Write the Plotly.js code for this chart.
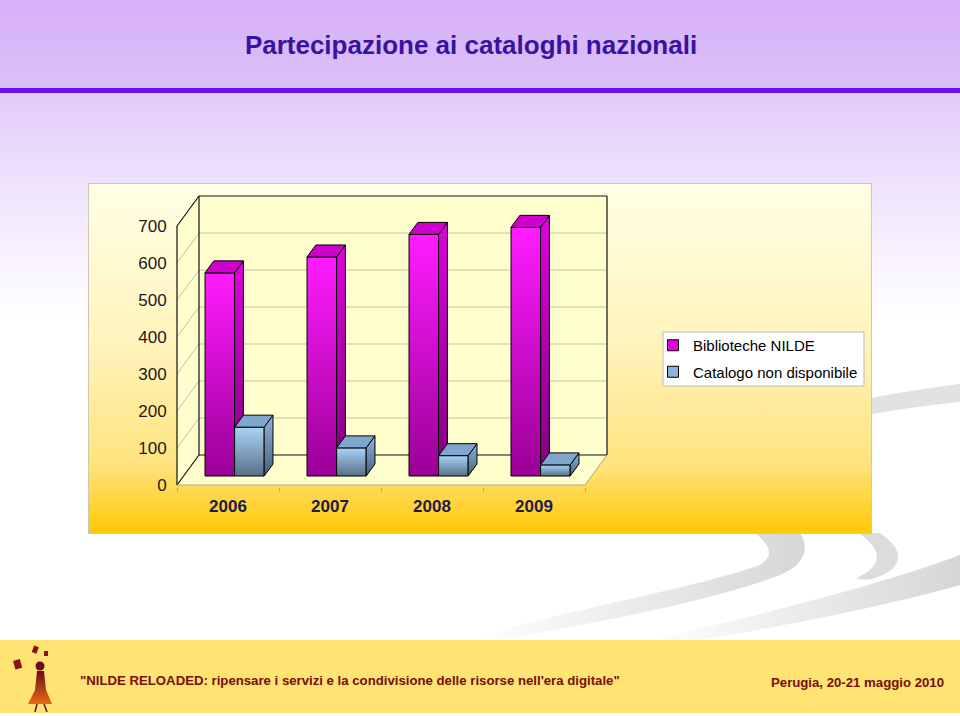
<!DOCTYPE html>
<html>
<head>
<meta charset="utf-8">
<script src="https://cdn.plot.ly/plotly-3.0.1.min.js"></script>
<style>
  html, body { margin:0; padding:0; background:#fff; }
  #wrap { position:relative; width:960px; height:716px; overflow:hidden; }
  #bg { position:absolute; left:0; top:0; }
  #chart { position:absolute; left:0; top:0; width:960px; height:716px; }
</style>
</head>
<body>
<div id="wrap">
<svg id="bg" width="960" height="716" xmlns="http://www.w3.org/2000/svg">
  <defs>
    <linearGradient id="gTitle" x1="0" y1="0" x2="0" y2="1">
      <stop offset="0" stop-color="#D5B1F8"/>
      <stop offset="1" stop-color="#DCC0F8"/>
    </linearGradient>
    <linearGradient id="gFade" x1="0" y1="0" x2="0" y2="1">
      <stop offset="0" stop-color="#E2CBF8"/>
      <stop offset="0.45" stop-color="#F1E6FC"/>
      <stop offset="1" stop-color="#FFFFFF"/>
    </linearGradient>
    <linearGradient id="gPanel" x1="0" y1="0" x2="0" y2="1">
      <stop offset="0" stop-color="#FFFFE6"/>
      <stop offset="0.45" stop-color="#FFF4BC"/>
      <stop offset="0.8" stop-color="#FFE37E"/>
      <stop offset="1" stop-color="#FFC905"/>
    </linearGradient>
    <linearGradient id="gSw" x1="0" y1="0" x2="1" y2="0">
      <stop offset="0" stop-color="#FFFFFF"/>
      <stop offset="1" stop-color="#D6D6D6"/>
    </linearGradient>
    <linearGradient id="gLogo" x1="0" y1="0" x2="0" y2="1">
      <stop offset="0" stop-color="#6E0A1E"/>
      <stop offset="1" stop-color="#E86A10"/>
    </linearGradient>
  </defs>
  <rect x="0" y="0" width="960" height="716" fill="#FFFFFF"/>
  <rect x="0" y="0" width="960" height="88" fill="url(#gTitle)"/>
  <rect x="0" y="93" width="960" height="230" fill="url(#gFade)"/>
  <rect x="0" y="88" width="960" height="5" fill="#6A12EE"/>
  <!-- decorative swooshes -->
  <path d="M872,398 C900,392 930,388 960,384 L960,402 C930,405 900,409 872,414 Z" fill="#E2E2E2"/>
  <path d="M470,640 C560,610 690,590 760,565 C775,555 770,545 755,533 L800,533 C810,548 805,565 780,575 C700,605 580,625 500,640 Z" fill="url(#gSw)"/>
  <path d="M650,640 C760,615 880,585 960,555 L960,585 C890,605 790,625 700,640 Z" fill="url(#gSw)"/>
  <path d="M858,533 L880,533 C905,550 905,568 875,578 C868,580 862,580 856,578 C885,566 882,548 858,533 Z" fill="#DCDCDC"/>
  <!-- chart panel -->
  <rect x="88.5" y="183.5" width="783" height="350" fill="url(#gPanel)" stroke="#CFC8B8" stroke-width="1"/>
  <!-- footer -->
  <rect x="0" y="640" width="960" height="73" fill="#FFE373"/>
  <!-- small logo -->
  <g>
    <rect x="14" y="660" width="7" height="9" fill="#8A1020" transform="rotate(-15 17 664)"/>
    <rect x="33" y="646" width="5" height="7" fill="#8A1020" transform="rotate(20 35 649)"/>
    <rect x="44" y="651" width="4" height="5" fill="#8A1020"/>
    <circle cx="40" cy="666" r="4.5" fill="#6E0A1E"/>
    <path d="M37,671 L44,671 L46,690 L52,704 L28,704 L35,690 Z" fill="url(#gLogo)"/>
    <path d="M37,704 L35,712 M44,704 L47,712" stroke="#6E0A1E" stroke-width="1.5"/>
  </g>
</svg>
<div id="chart"></div>
</div>
<script>
// ---------------- data ----------------
const years = ['2006', '2007', '2008', '2009'];
const nilde = [549, 592, 653, 672];          // Biblioteche NILDE
const catalogo = [132, 76, 55, 30];          // Catalogo non disponibile
const seriesNames = ['Biblioteche NILDE', 'Catalogo non disponibile'];
const yTicks = [0, 100, 200, 300, 400, 500, 600, 700];

// ---------------- styling / geometry ----------------
const PXX = 102;           // px per category unit
const PXY = 0.37;          // px per value unit
const DX = 22 / PXX;       // depth shift in x (units)
const DY = 30 / PXY;       // depth shift in y (value units)
const BW = 0.29;           // bar width (units)
const D1 = 0.30, D2 = 0.70; // bar depth (front / back)
const L = 175, R = 620, T = 180, B = 487;   // plot area in px
const xmin = (L - 177) / PXX - 0.5, xmax = (R - 177) / PXX - 0.5;
const ymin = (485 - B) / PXY, ymax = (485 - T) / PXY;
const nCat = years.length;
const wallTop = yTicks[yTicks.length - 1];

const styles = [
  { front: ['#9A0096', '#FF1CFF'], side: ['#7E007A', '#E000E0'], topc: '#CF00CC', legend: '#E000E0' },
  { front: ['#587089', '#A9D4F7'], side: ['#4A6079', '#8EB6DD'], topc: '#7FA6CE', legend: '#8AB2DA' }
];

function proj(x, v, d) { return [x + d * DX, v + d * DY]; }
function poly(pts) {
  const xs = pts.map(p => p[0]), ys = pts.map(p => p[1]);
  xs.push(xs[0]); ys.push(ys[0]);
  return { x: xs, y: ys };
}
function segs(list) {
  const x = [], y = [];
  list.forEach(s => { x.push(s[0][0], s[1][0], null); y.push(s[0][1], s[1][1], null); });
  return { x, y };
}

const traces = [];
const base = { type: 'scatter', mode: 'lines', hoverinfo: 'skip', showlegend: false };

// walls
const x0w = -0.5, x1w = nCat - 0.5;
[
  [proj(x0w, 0, 1), proj(x1w, 0, 1), proj(x1w, wallTop, 1), proj(x0w, wallTop, 1)],
  [proj(x0w, 0, 0), proj(x0w, 0, 1), proj(x0w, wallTop, 1), proj(x0w, wallTop, 0)],
  [proj(x0w, 0, 0), proj(x1w, 0, 0), proj(x1w, 0, 1), proj(x0w, 0, 1)]
].forEach(p => traces.push(Object.assign({}, base, poly(p), {
  fill: 'toself', fillcolor: '#FFFFCE', line: { width: 0 }
})));

// gridlines
const grid = [];
yTicks.slice(1, -1).forEach(t => {
  grid.push([proj(x0w, t, 1), proj(x1w, t, 1)]);
  grid.push([proj(x0w, t, 0), proj(x0w, t, 1)]);
});
traces.push(Object.assign({}, base, segs(grid), { line: { color: '#C4C1A4', width: 1 } }));

// floor front edge (grey) on overlay axis
traces.push(Object.assign({}, base, segs([
  [proj(x0w, 0, 0), proj(x1w, 0, 0)],
  [proj(x1w, 0, 0), proj(x1w, 0, 1)]
]), { xaxis: 'x2', line: { color: '#B0A98A', width: 1 } }));

// frame (black)
traces.push(Object.assign({}, base, segs([
  [proj(x0w, 0, 0), proj(x0w, wallTop, 0)],
  [proj(x0w, wallTop, 0), proj(x0w, wallTop, 1)],
  [proj(x0w, 0, 0), proj(x0w, 0, 1)],
  [proj(x0w, 0, 1), proj(x0w, wallTop, 1)],
  [proj(x0w, wallTop, 1), proj(x1w, wallTop, 1)],
  [proj(x1w, wallTop, 1), proj(x1w, 0, 1)],
  [proj(x0w, 0, 1), proj(x1w, 0, 1)]
]), { line: { color: '#111111', width: 1.2 } }));

// bars
const series = [nilde, catalogo];
for (let i = 0; i < nCat; i++) {
  series.forEach((vals, s) => {
    const v = vals[i];
    const a = i + (s - 1) * BW, b = a + BW;
    const st = styles[s];
    const faces = [
      { p: [proj(a, 0, D1), proj(b, 0, D1), proj(b, v, D1), proj(a, v, D1)], g: st.front },
      { p: [proj(b, 0, D1), proj(b, 0, D2), proj(b, v, D2), proj(b, v, D1)], g: st.side },
      { p: [proj(a, v, D1), proj(b, v, D1), proj(b, v, D2), proj(a, v, D2)], c: st.topc }
    ];
    faces.forEach(f => {
      const tr = Object.assign({}, base, poly(f.p), {
        fill: 'toself', line: { color: '#000000', width: 1 },
        name: seriesNames[s] + ' ' + years[i]
      });
      if (f.g) {
        tr.fillcolor = f.g[1];
        tr.fillgradient = { type: 'vertical', colorscale: [[0, f.g[0]], [1, f.g[1]]] };
      } else {
        tr.fillcolor = f.c;
      }
      traces.push(tr);
    });
  });
}

// legend entries
seriesNames.forEach((n, s) => traces.push({
  type: 'scatter', mode: 'markers', x: [null], y: [null], name: n, showlegend: true,
  legendgroup: 'g' + s,
  marker: { symbol: 'square', size: 11, color: styles[s].legend, line: { color: '#000', width: 1 } }
}));

const pxToPaperX = px => (px - L) / (R - L);
const pxToPaperY = py => (B - py) / (B - T);
const font = 'Liberation Sans, Arial, sans-serif';

const layout = {
  width: 960, height: 716,
  margin: { l: L, r: 960 - R, t: T, b: 716 - B, pad: 0 },
  paper_bgcolor: 'rgba(0,0,0,0)', plot_bgcolor: 'rgba(0,0,0,0)',
  title: {
    text: 'Partecipazione ai cataloghi nazionali',
    x: 471 / 960, xanchor: 'center', xref: 'container',
    y: 1 - 45 / 716, yanchor: 'middle', yref: 'container',
    font: { family: font, size: 26, color: '#3A12A0', weight: 'bold' }
  },
  xaxis: {
    range: [xmin, xmax], tickvals: years.map((_, i) => i), ticktext: years,
    showgrid: false, zeroline: false, showline: false,
    ticks: 'outside', ticklen: 4, tickcolor: 'rgba(0,0,0,0)',
    tickfont: { family: font, size: 17, color: '#1C1C50', weight: 'bold' },
    fixedrange: true
  },
  xaxis2: {
    range: [xmin, xmax], overlaying: 'x', anchor: 'y', side: 'bottom',
    tickvals: Array.from({ length: nCat + 1 }, (_, i) => i - 0.5),
    ticks: 'outside', ticklen: 4, tickcolor: '#B0A98A', tickwidth: 1,
    showticklabels: false, showgrid: false, zeroline: false, showline: false, fixedrange: true
  },
  yaxis: {
    range: [ymin, ymax], tickvals: yTicks,
    showgrid: false, zeroline: false, showline: false,
    ticks: 'outside', ticklen: 4, tickcolor: 'rgba(0,0,0,0)',
    tickfont: { family: font, size: 17, color: '#1A1A1A' },
    fixedrange: true
  },
  showlegend: true,
  legend: {
    xref: 'container', yref: 'container',
    x: 653 / 960, y: 1 - 329 / 716, xanchor: 'left', yanchor: 'top',
    bgcolor: 'rgba(0,0,0,0)', borderwidth: 0, tracegroupgap: 4,
    font: { family: font, size: 15, color: '#000000' },
    itemclick: false, itemdoubleclick: false
  },
  shapes: [{
    type: 'rect', xref: 'paper', yref: 'paper', layer: 'below',
    x0: pxToPaperX(663), x1: pxToPaperX(864), y0: pxToPaperY(386), y1: pxToPaperY(332),
    fillcolor: '#FFFFFF', line: { color: '#BDBDBD', width: 1 }
  }],
  annotations: [
    {
      text: '"NILDE RELOADED: ripensare i servizi e la condivisione delle risorse nell\'era digitale"',
      xref: 'paper', yref: 'paper', x: pxToPaperX(78), y: pxToPaperY(680),
      xanchor: 'left', yanchor: 'middle', showarrow: false,
      font: { family: font, size: 13.2, color: '#7A0C0C', weight: 'bold' }
    },
    {
      text: 'Perugia, 20-21 maggio 2010',
      xref: 'paper', yref: 'paper', x: pxToPaperX(946), y: pxToPaperY(682),
      xanchor: 'right', yanchor: 'middle', showarrow: false,
      font: { family: font, size: 13.2, color: '#7A0C0C', weight: 'bold' }
    }
  ],
  hovermode: false
};

Plotly.newPlot('chart', traces, layout, { displayModeBar: false, staticPlot: true });
</script>
</body>
</html>
